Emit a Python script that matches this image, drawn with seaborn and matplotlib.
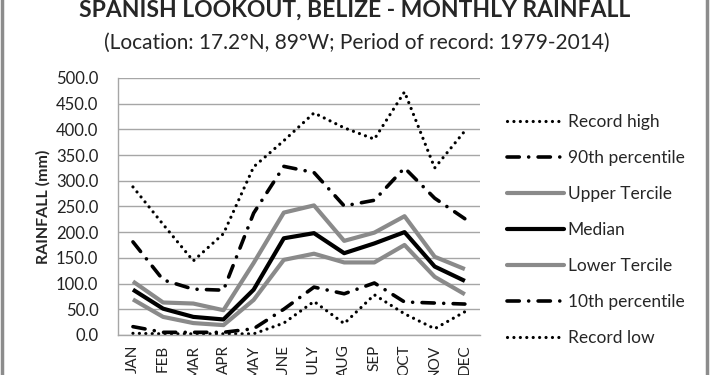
import matplotlib
matplotlib.use("Agg")
import matplotlib.pyplot as plt
import seaborn as sns
from matplotlib.patches import Rectangle
from matplotlib.lines import Line2D

months = ["JAN", "FEB", "MAR", "APR", "MAY", "JUNE", "JULY", "AUG", "SEP", "OCT", "NOV", "DEC"]
record_high = [288, 215, 144, 197, 327, 378, 432, 403, 381, 473, 325, 397]
pct90 = [181, 107, 89, 87, 237, 328, 316, 251, 262, 325, 266, 226]
upper_tercile = [104, 63, 61, 48, 140, 238, 252, 183, 199, 231, 152, 128]
median = [88, 51, 35, 30, 88, 188, 198, 159, 178, 200, 133, 105]
lower_tercile = [69, 35, 23, 19, 68, 146, 158, 141, 141, 175, 113, 79]
pct10 = [16, 5, 5, 5, 12, 50, 93, 80, 101, 64, 62, 60]
record_low = [3, 2, 2, 2, 2, 23, 65, 22, 78, 41, 12, 45]

labels = ["Record high", "90th percentile", "Upper Tercile", "Median",
          "Lower Tercile", "10th percentile", "Record low"]

sns.set_style("white")
plt.rcParams["font.family"] = ["Lato", "DejaVu Sans"]

dot = (0, (0.01, 2.0))
dashdot = (0, (3.4, 2.6, 0.01, 2.6))
grey = "#8a8a8a"

styles = [
    dict(color="black", lw=2.3, ls=dot),
    dict(color="black", lw=2.6, ls=dashdot),
    dict(color=grey, lw=3.0, ls="-"),
    dict(color="black", lw=3.0, ls="-"),
    dict(color=grey, lw=3.0, ls="-"),
    dict(color="black", lw=2.6, ls=dashdot),
    dict(color="black", lw=2.3, ls=dot),
]
series = [record_high, pct90, upper_tercile, median, lower_tercile, pct10, record_low]

fig = plt.figure(figsize=(7.1, 3.75), dpi=100)
ax = fig.add_axes([0.166, 0.107, 0.51, 0.685])

handles = []
for vals, st, lab in zip(series, styles, labels):
    sns.lineplot(x=months, y=vals, ax=ax, color=st["color"], linewidth=st["lw"],
                 sort=False)
    line = ax.lines[-1]
    line.set_linestyle(st["ls"])
    line.set_dash_capstyle("round")
    line.set_solid_capstyle("butt")
    h = Line2D([0], [0], color=st["color"], lw=st["lw"], ls=st["ls"],
               dash_capstyle="round")
    handles.append(h)

ax.set_ylim(0, 500)
ax.set_xlim(-0.5, 11.5)
ax.set_yticks(range(0, 501, 50))
ax.set_yticklabels([f"{v:.1f}" for v in range(0, 501, 50)], fontsize=12, color="#222222")
ax.tick_params(axis="x", labelrotation=90, labelsize=11, colors="#222222", length=0, pad=7)
ax.tick_params(axis="y", length=0, pad=14)
ax.yaxis.grid(True, color="#a6a6a6", lw=1)
ax.xaxis.grid(False)
for s in ["top", "right"]:
    ax.spines[s].set_visible(False)
for s in ["left", "bottom"]:
    ax.spines[s].set_color("#a6a6a6")
    ax.spines[s].set_linewidth(1)
ax.set_ylabel("RAINFALL (mm)", fontsize=11.5, fontweight="bold", labelpad=4)
ax.set_xlabel("")

ax.legend(handles, labels, loc="upper left", bbox_to_anchor=(1.055, 0.885),
          frameon=False, fontsize=12.5, handlelength=3.3, handletextpad=0.2,
          labelspacing=1.15, borderaxespad=0)

fig.text(0.5, 0.972, "SPANISH LOOKOUT, BELIZE - MONTHLY RAINFALL", ha="center",
         va="center", fontsize=16.5, fontweight="bold")
fig.text(0.503, 0.885, "(Location: 17.2°N, 89°W; Period of record: 1979-2014)",
         ha="center", va="center", fontsize=15)

fig.patches.append(Rectangle((0.003, -0.1), 0.993, 1.3, transform=fig.transFigure,
                             fill=False, edgecolor="#8c8c8c", lw=2.5, clip_on=False))

fig.savefig("out.png", dpi=100)
